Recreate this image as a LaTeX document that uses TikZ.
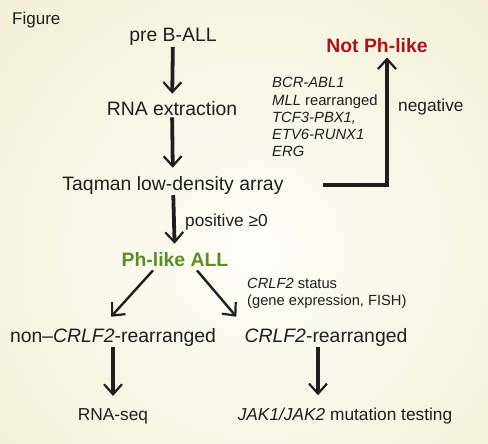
\documentclass[tikz,border=0pt]{standalone}
\usepackage{fontspec}
\setmainfont{Liberation Sans}
\usetikzlibrary{arrows.meta}
\definecolor{notred}{RGB}{168,22,26}
\definecolor{phgreen}{RGB}{92,140,42}
\definecolor{paper}{RGB}{240,233,202}
\definecolor{paperlight}{RGB}{254,253,247}
\definecolor{ink}{RGB}{32,30,30}

\begin{document}
\begin{tikzpicture}[x=1pt,y=-1pt,
    every node/.style={text=ink,inner sep=0pt},
    big/.style={font=\fontsize{19.4}{23}\selectfont},
    bigbold/.style={font=\fontsize{19.4}{23}\selectfont\bfseries},
    mid/.style={font=\fontsize{17.3}{20}\selectfont},
    small/.style={font=\fontsize{14.7}{17}\selectfont},
    flow/.style={draw=ink,line width=3.8pt,shorten <=1pt,shorten >=8pt,
      -{Straight Barb[length=10pt,width=18pt,line width=2.2pt 0]}},
    branch/.style={draw=ink,line width=2.4pt,
      -{Straight Barb[length=10pt,width=18pt,line width=2.2pt 0]}}]
  \useasboundingbox (0,0) rectangle (488,444);
  % background
  \begin{scope}
    \clip (0,0) rectangle (488,444);
    \fill[paper] (0,0) rectangle (488,444);
    \shade[inner color=paperlight,outer color=paper] (255,250) circle (500);
  \end{scope}
  \node[anchor=base west,font=\fontsize{17}{20}\selectfont] (fig) at (12,25) {Figure};
  % main column
  \node[big,anchor=base] (pre) at (173,42) {pre B-ALL};
  \node[big,anchor=base] (rna) at (172,116) {RNA extraction};
  \node[big,anchor=base] (taq) at (173,190) {Taqman low-density array};
  \node[bigbold,anchor=base,text=phgreen] (ph) at (175,266) {Ph-like ALL};
  \node[bigbold,anchor=base,text=notred] (notph) at (377,53) {Not Ph-like};
  \node[anchor=base west,align=left,font=\fontsize{14.8}{17.3}\selectfont\itshape] (fus) at (272,157)
    {BCR-ABL1\\MLL \upshape rearranged\\TCF3-PBX1,\\ETV6-RUNX1\\ERG};
  \node[mid,anchor=base west] (neg) at (398,112) {negative};
  \node[mid,anchor=base west] (pos) at (185,226) {positive ≥0};
  \node[small,anchor=base west,align=left] (stat) at (247,305)
    {\textit{CRLF2} status\\(gene expression, FISH)};
  % branches
  \node[big,anchor=base] (non) at (113,342) {non–\textit{CRLF2}-rearranged};
  \node[big,anchor=base] (crlf) at (326,342) {\textit{CRLF2}-rearranged};
  \node[mid,anchor=base] (seq) at (113,420) {RNA-seq};
  \node[mid,anchor=base] (jak) at (345,420) {\textit{JAK1/JAK2} mutation testing};
  % arrows
  \draw[flow] (pre) -- (rna);
  \draw[flow] (rna) -- (taq);
  \draw[flow] (taq) -- (ph);
  \draw[flow,shorten <=39pt,shorten >=4pt] (taq.east) -| ([xshift=10pt]notph.south);
  \draw[branch] ([xshift=-22pt,yshift=-4pt]ph.south) -- ([xshift=-2pt,yshift=11pt]non.north);
  \draw[branch] ([xshift=22pt,yshift=-4pt]ph.south) -- ([xshift=-8pt,yshift=11pt]crlf.north west);
  \draw[flow,shorten >=12pt] (non.south) -- (non.south |- seq.north);
  \draw[flow,shorten >=12pt] ([xshift=-8pt]crlf.south) -- ([xshift=-8pt]crlf.south |- jak.north);
\end{tikzpicture}
\end{document}
